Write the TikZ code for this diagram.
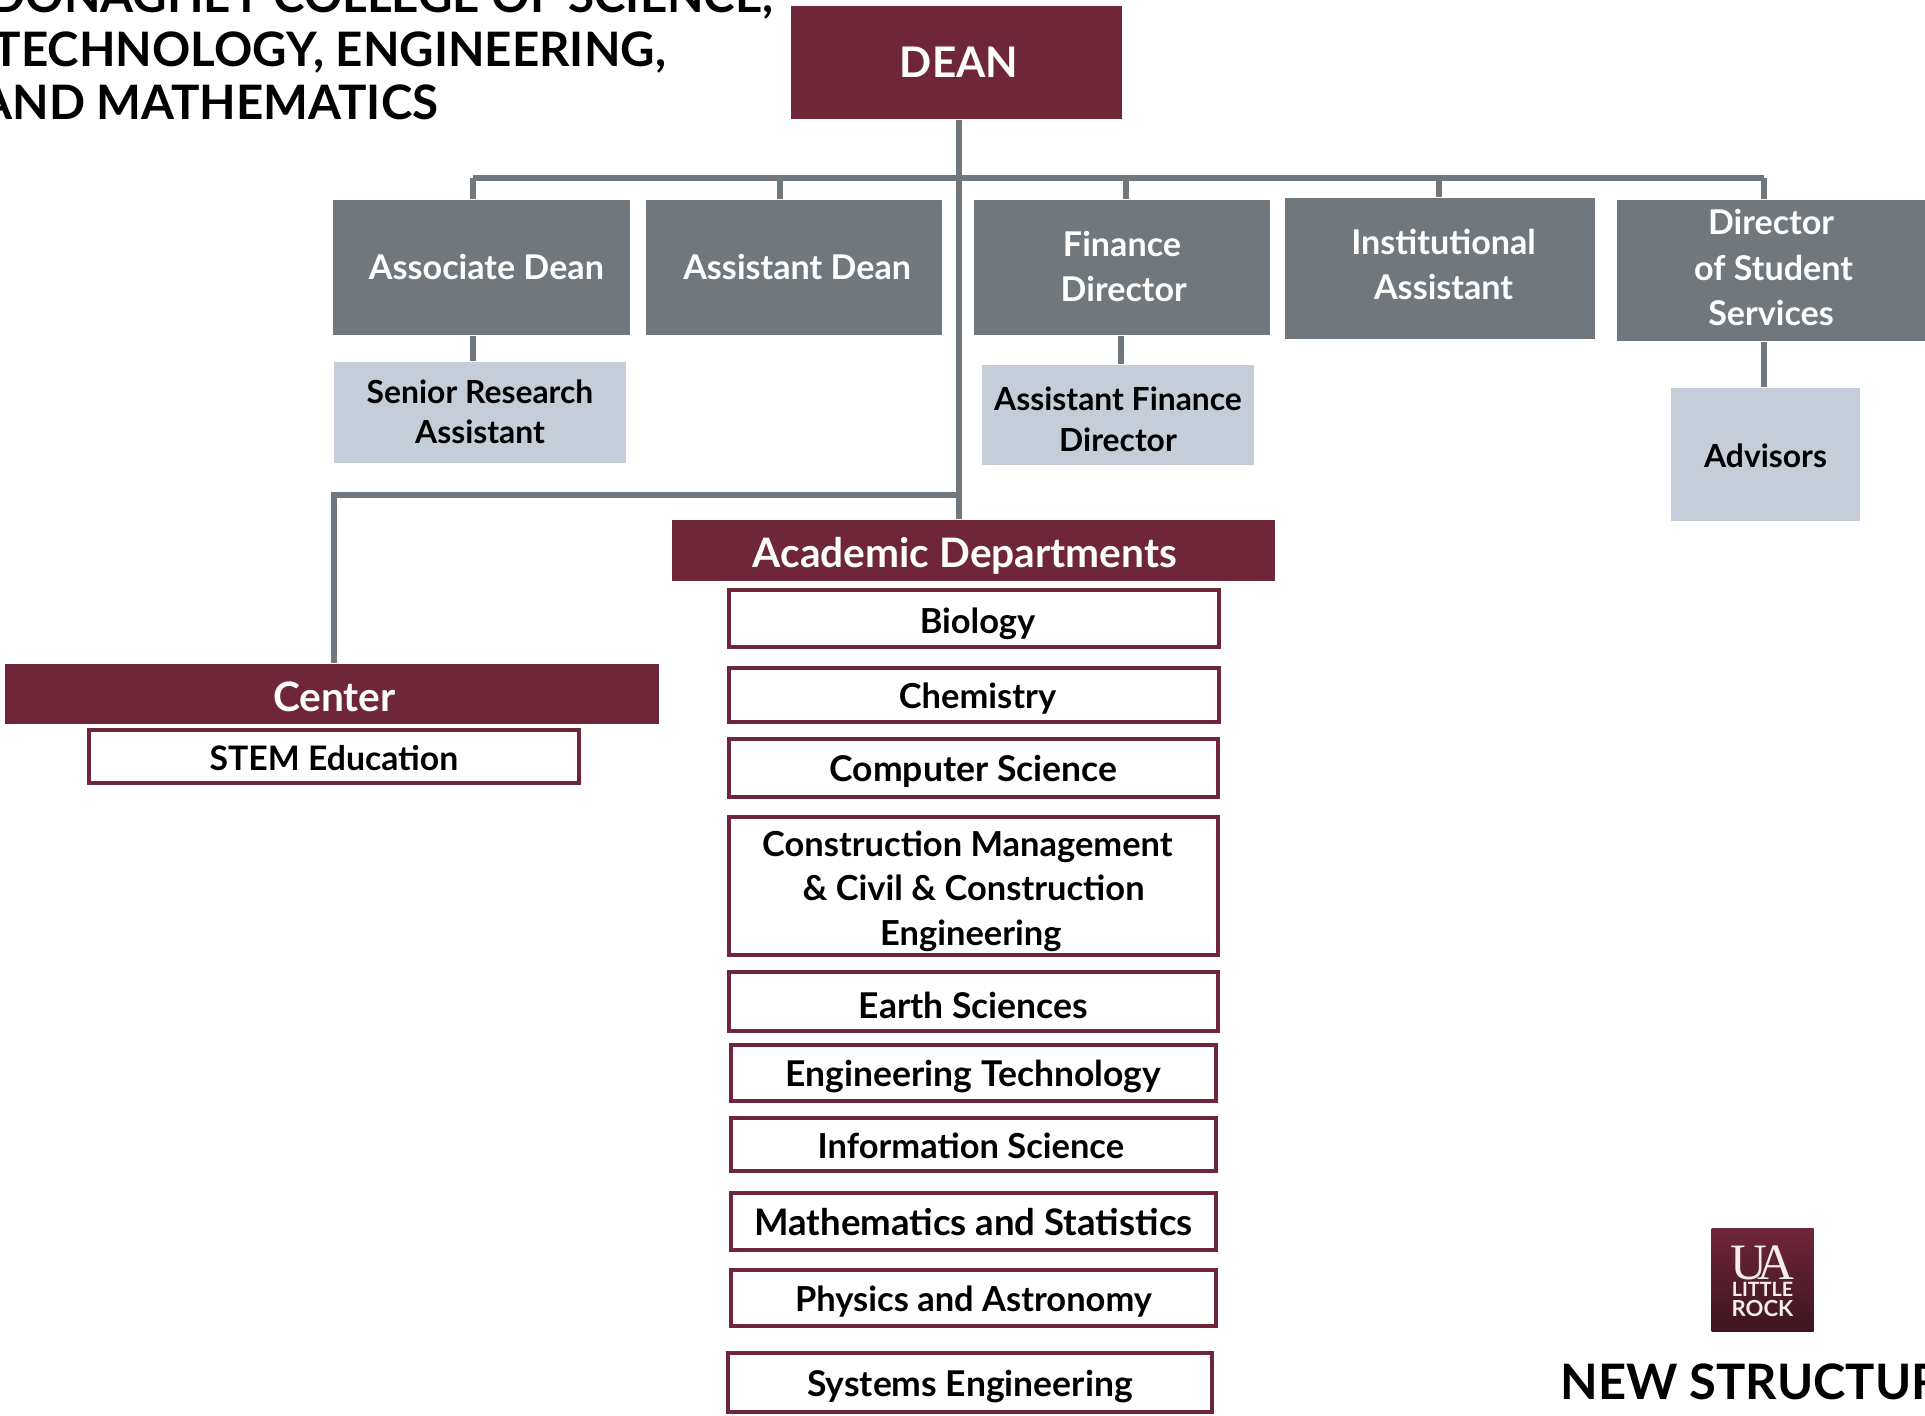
\documentclass[tikz,border=0pt]{standalone}
\usepackage{fontspec}
\setmainfont{Lato}
\newfontfamily\logofont{Liberation Serif}
\definecolor{maroon}{HTML}{6F2639}
\definecolor{slate}{HTML}{70787E}
\definecolor{mist}{HTML}{C5CED8}
\tikzset{
	chief/.style={fill=maroon, text=white, font=\fontsize{11.55}{14}\selectfont\bfseries, inner sep=0pt, text height=9.8pt, text depth=0pt},
	staff/.style={fill=slate, text=white, font=\fontsize{9.7}{12.8}\selectfont\bfseries, align=center, inner sep=0pt, text height=7pt, text depth=0pt},
	aide/.style={fill=mist, text=black, font=\fontsize{9.05}{11.4}\selectfont\bfseries, align=center, inner sep=0pt, text height=6.4pt, text depth=0pt},
	dept/.style={draw=maroon, line width=1.1pt, fill=white, text=black, font=\fontsize{9.8}{12.6}\selectfont\bfseries, align=center, inner sep=0pt, text height=7.7pt, text depth=0pt},
	wide/.style={font=\fontsize{10.1}{12.6}\selectfont\bfseries},
	link/.style={draw=slate, line width=1.5pt},
	heading/.style={text=black, font=\fontsize{13.5}{15.2}\selectfont\bfseries, inner sep=0pt}
}
% box from its pixel corners
\newcommand{\boxat}[7]{\node[#1, minimum width=#4*0.1mm-#2*0.1mm, minimum height=#5*0.1mm-#3*0.1mm] (#6) at ({(#2+#4)/2},{(#3+#5)/2}) {#7};}
% pad one side of a line, so it sits off centre
\newcommand{\pad}[1]{\hspace*{#1}}

\begin{document}
\begin{tikzpicture}[x=0.01cm, y=-0.01cm]

	\useasboundingbox (0,0) rectangle (1925,1415);
	\clip (0,0) rectangle (1925,1415);

	\coordinate (trunk) at (959,178);
	\coordinate (barleft) at (473,178);
	\coordinate (barright) at (1764,178);
	\coordinate (dropasst) at (780,178);
	\coordinate (dropfin) at (1126,178);
	\coordinate (dropinst) at (1439,178);
	\coordinate (dropaide) at (1121,350);
	\coordinate (elbow) at (334,495);

	\boxat{chief, font=\fontsize{12}{14}\selectfont\bfseries, text height=8.6pt}{791}{6}{1122}{119}{dean}{\pad{1.4pt}DEAN}

	\boxat{staff}{333}{200}{630}{335}{assocdean}{\pad{2.8pt}Associate Dean}
	\boxat{staff}{646}{200}{942}{335}{asstdean}{\pad{1.8pt}Assistant Dean}
	\boxat{staff, text height=19.5pt}{974}{200}{1270}{335}{findir}{Finance\\\pad{1pt}Director}
	\boxat{staff, text height=17.5pt}{1285}{198}{1595}{339}{instasst}{\pad{2pt}Institutional\\\pad{2pt}Assistant}
	\boxat{staff, text height=31pt}{1617}{200}{1930}{341}{studdir}{Director\pad{1.4pt}\\of Student\pad{1.4pt}\\Services\pad{1.4pt}}

	\boxat{aide, text height=17.5pt}{334}{362}{626}{463}{research}{Senior Research\\Assistant}
	\boxat{aide, text height=20.5pt}{982}{365}{1254}{465}{asstfin}{Assistant Finance\\Director}
	\boxat{aide, text height=7.4pt}{1671}{388}{1860}{521}{advisors}{Advisors}

	\boxat{chief}{672}{520}{1275}{581}{academic}{Academic Departments\pad{4.9pt}}
	\boxat{chief}{5}{664}{659}{724}{center}{\pad{1.4pt}Center}
	\boxat{dept, font=\fontsize{9.6}{12.6}\selectfont\bfseries}{89}{730}{579}{783}{stem}{STEM Education}

	\boxat{dept, text height=8.4pt}{729}{590}{1219}{647}{biology}{\pad{2pt}Biology}
	\boxat{dept}{729}{668}{1219}{722}{chemistry}{\pad{2pt}Chemistry}
	\boxat{dept, wide}{729}{739}{1218}{797}{compsci}{Computer Science}
	\boxat{dept, text height=33.6pt}{729}{817}{1218}{955}{construction}{Construction Management\pad{3.5pt}\\\& Civil \& Construction\pad{7pt}\\Engineering\pad{1.5pt}}
	\boxat{dept, wide, text height=9.8pt}{729}{972}{1218}{1031}{earth}{Earth Sciences}
	\boxat{dept, wide}{731}{1045}{1216}{1101}{engtech}{Engineering Technology}
	\boxat{dept}{731}{1118}{1216}{1171}{infosci}{Information Science\pad{1.5pt}}
	\boxat{dept, font=\fontsize{10.4}{12.6}\selectfont\bfseries}{731}{1193}{1216}{1250}{maths}{Mathematics and Statistics}
	\boxat{dept}{731}{1270}{1216}{1326}{physics}{Physics and Astronomy}
	\boxat{dept, wide}{728}{1353}{1212}{1412}{systems}{Systems Engineering}

	\draw[link] (dean.south -| trunk) -- (academic.north -| trunk);
	\draw[link] (barleft) -- (barright);
	\draw[link] (barleft) -- (barleft |- assocdean.north);
	\draw[link] (dropasst) -- (dropasst |- asstdean.north);
	\draw[link] (dropfin) -- (dropfin |- findir.north);
	\draw[link] (dropinst) -- (dropinst |- instasst.north);
	\draw[link] (barright) -- (barright |- studdir.north);
	\draw[link] (assocdean.south -| barleft) -- (research.north -| barleft);
	\draw[link] (findir.south -| dropaide) -- (asstfin.north -| dropaide);
	\draw[link] (studdir.south -| barright) -- (advisors.north -| barright);
	\draw[link] (trunk |- elbow) -- (elbow) -- (elbow |- center.north);

	\node[heading, anchor=base west] (title) at (-11,12) {DONAGHEY COLLEGE OF SCIENCE,};
	\node[heading, anchor=base west] (titletwo) at (-8,66) {TECHNOLOGY, ENGINEERING,};
	\node[heading, anchor=base west] (titlethree) at (-21,119) {AND MATHEMATICS};
	\node[heading, anchor=base west, font=\fontsize{13.9}{15.2}\selectfont\bfseries] (structure) at (1560,1399) {NEW STRUCTURE};

	\node[top color=maroon, bottom color=maroon!55!black, minimum size=1.02cm, inner sep=0pt, text=white!92!maroon, align=center, font=\fontsize{6.3}{4.9}\selectfont\bfseries, text height=20.8pt, text depth=0pt] (logo) at (1762.5,1280) {{\logofont\fontsize{14.5}{15}\selectfont\mdseries U\kern-3pt A}\\{\fontsize{5.6}{4.9}\selectfont LITTLE}\\[0.7pt]ROCK};

\end{tikzpicture}
\end{document}
